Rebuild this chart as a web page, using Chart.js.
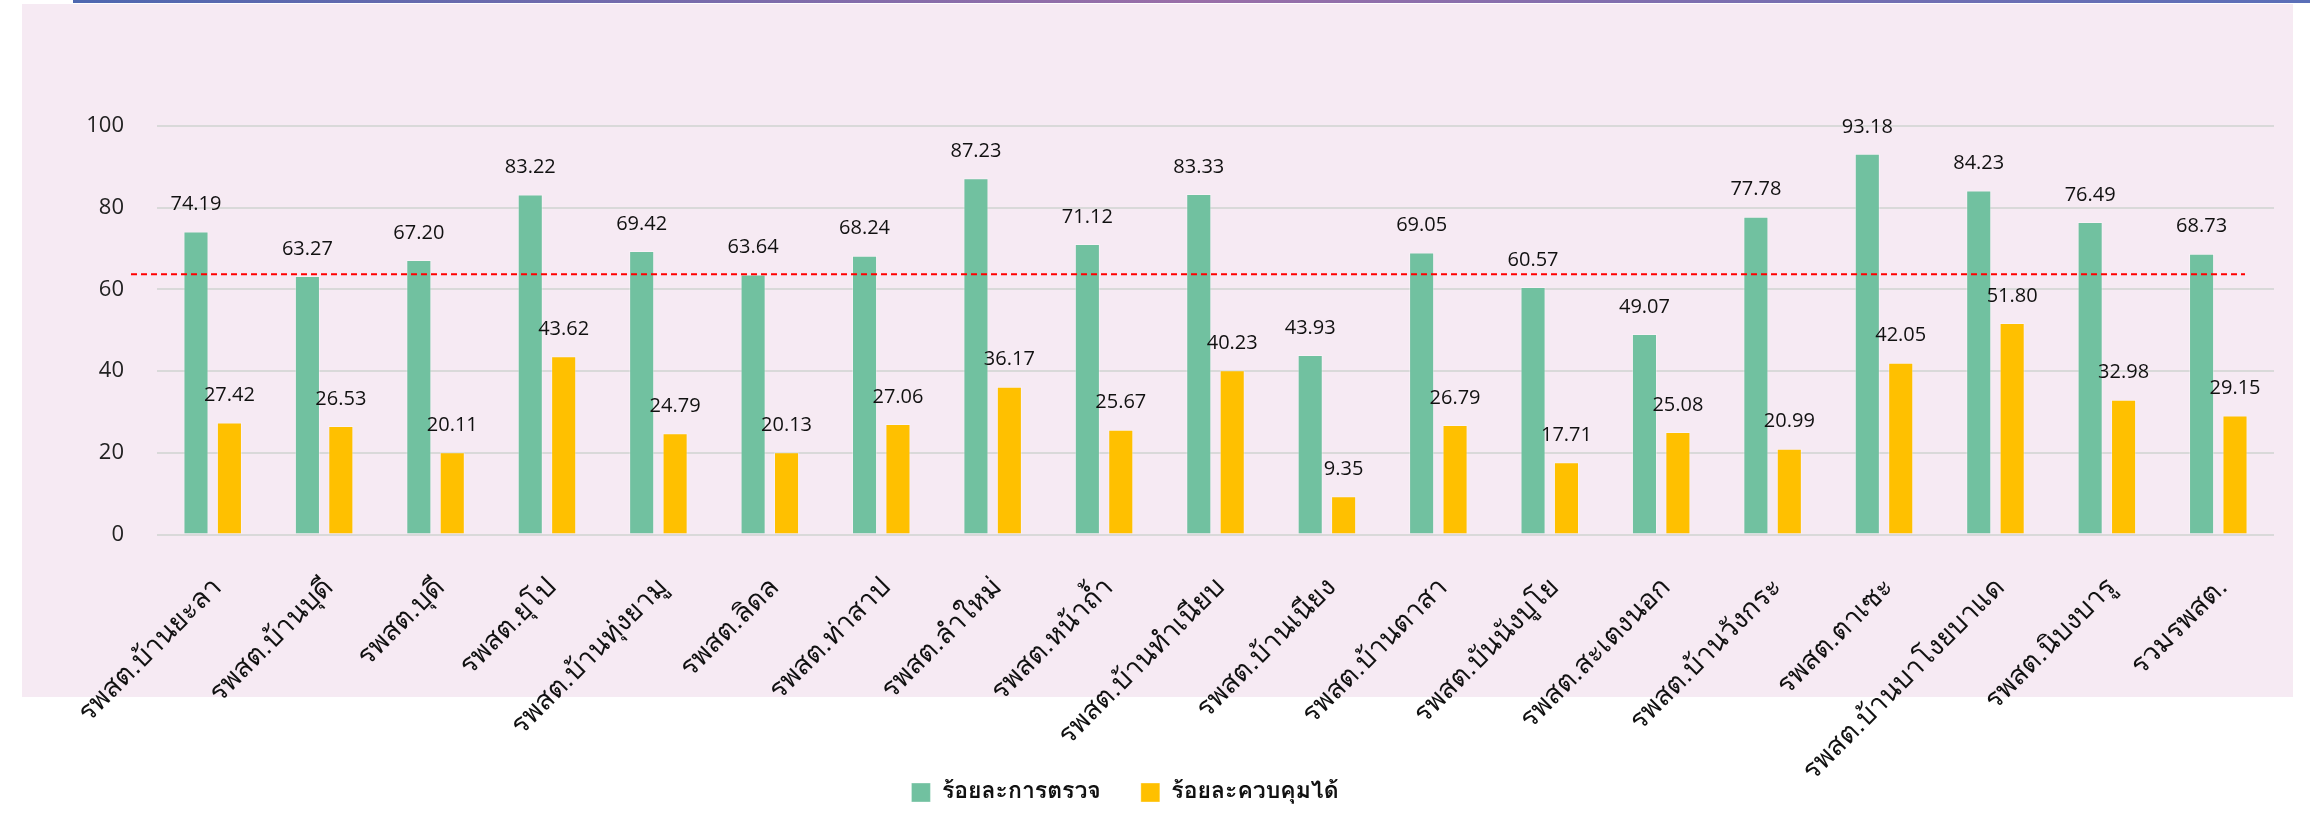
<!DOCTYPE html>
<html>
<head>
<meta charset="utf-8">
<script src="https://cdn.jsdelivr.net/npm/chart.js@4.4.1/dist/chart.umd.min.js"></script>
<style>
  html, body { margin: 0; padding: 0; background: #fff; overflow: hidden; }
  body { width: 2310px; height: 814px; position: relative; }
  #bg { position: absolute; left: 22px; top: 4px; width: 2271px; height: 693px; background: #F6EAF3; }
  #topline { position: absolute; left: 73px; top: 0; width: 2237px; height: 3px;
    background: linear-gradient(to right, #4E68B0, #9A6FA8 50%, #5A6FB8); }
  #wrap { position: absolute; left: -24px; top: 0; width: 2334px; height: 814px; }
</style>
</head>
<body>
<div id="bg"></div>
<div id="topline"></div>
<div id="wrap"><canvas id="chart"></canvas></div>
<script>
// data
const categories = [
  "รพสต.บ้านยะลา", "รพสต.บ้านบุดี", "รพสต.บุดี", "รพสต.ยุโป", "รพสต.บ้านทุ่งยามู",
  "รพสต.ลิดล", "รพสต.ท่าสาป", "รพสต.ลำใหม่", "รพสต.หน้าถ้ำ", "รพสต.บ้านทำเนียบ",
  "รพสต.บ้านเนียง", "รพสต.บ้านตาสา", "รพสต.บันนังบูโย", "รพสต.สะเตงนอก", "รพสต.บ้านวังกระ",
  "รพสต.ตาเซะ", "รพสต.บ้านบาโงยบาแด", "รพสต.นิบงบารู", "รวมรพสต."
]
const examPct = [74.19, 63.27, 67.20, 83.22, 69.42, 63.64, 68.24, 87.23, 71.12, 83.33,
  43.93, 69.05, 60.57, 49.07, 77.78, 93.18, 84.23, 76.49, 68.73]
const controlPct = [27.42, 26.53, 20.11, 43.62, 24.79, 20.13, 27.06, 36.17, 25.67, 40.23,
  9.35, 26.79, 17.71, 25.08, 20.99, 42.05, 51.80, 32.98, 29.15]
const seriesNames = ["ร้อยละการตรวจ", "ร้อยละควบคุมได้"]
const targetLine = 63.7
const yMin = 0
const yMax = 100
const yStep = 20

const thaiFont = "Loma, 'Noto Sans Thai Looped', Tahoma, 'Noto Sans Thai', 'Noto Sans', sans-serif"
const numFont = "'Open Sans', 'Noto Sans', sans-serif"

// value labels above every bar
const valueLabels = {
  id: 'valueLabels',
  afterDatasetsDraw(chart) {
    const ctx = chart.ctx
    ctx.save()
    ctx.font = "20px " + numFont
    ctx.fillStyle = "#111"
    ctx.textAlign = "center"
    ctx.textBaseline = "middle"
    chart.data.datasets.forEach((ds, i) => {
      chart.getDatasetMeta(i).data.forEach((bar, j) => {
        ctx.fillText(ds.data[j].toFixed(2), bar.x, bar.y - 27)
      })
    })
    ctx.restore()
  }
}

// red dashed target line
const targetPlugin = {
  id: 'target',
  afterDatasetsDraw(chart) {
    const ctx = chart.ctx
    const area = chart.chartArea
    const y = chart.scales.y.getPixelForValue(targetLine)
    ctx.save()
    ctx.strokeStyle = "#FF0000"
    ctx.lineWidth = 2
    ctx.setLineDash([6, 4])
    ctx.beginPath()
    ctx.moveTo(area.left - 26, y)
    ctx.lineTo(area.right - 29, y)
    ctx.stroke()
    ctx.restore()
  }
}

// long rotated labels run into the legend band, don't clip them at the scale box
const noClipLabels = {
  id: 'noClipLabels',
  afterLayout(chart) {
    chart.scales.x.bottom = chart.height
  }
}

new Chart(document.getElementById('chart'), {
  type: 'bar',
  data: {
    labels: categories,
    datasets: [
      { label: seriesNames[0], data: examPct, backgroundColor: "#71C1A0",
        borderColor: "rgba(255,255,255,0.35)", borderWidth: 1 },
      { label: seriesNames[1], data: controlPct, backgroundColor: "#FFC000",
        borderColor: "rgba(255,255,255,0.35)", borderWidth: 1 }
    ]
  },
  options: {
    responsive: true,
    maintainAspectRatio: false,
    animation: false,
    layout: { padding: { top: 126, right: 36, left: 0, bottom: 0 } },
    datasets: { bar: { categoryPercentage: 0.6, barPercentage: 0.75 } },
    scales: {
      x: {
        grid: { display: false, drawTicks: false },
        border: { display: false },
        ticks: {
          color: "#111",
          font: { family: thaiFont, size: 27.5 },
          minRotation: 45, maxRotation: 45,
          padding: 38,
          labelOffset: 6,
          autoSkip: false
        },
        afterFit(scale) { scale.height = 206.5 }
      },
      y: {
        min: yMin, max: yMax,
        grid: { color: "#D9D9D9", lineWidth: 2, drawTicks: false },
        border: { display: false },
        ticks: {
          stepSize: yStep,
          color: "#222",
          font: { family: numFont, size: 22 },
          padding: 33
        },
        afterFit(scale) { scale.width = 181 }
      }
    },
    plugins: {
      legend: {
        position: 'bottom',
        labels: {
          boxWidth: 19, boxHeight: 19,
          padding: 40,
          color: "#111",
          font: { family: thaiFont, size: 23, weight: 'bold' }
        }
      },
      tooltip: { enabled: false }
    }
  },
  plugins: [valueLabels, targetPlugin, noClipLabels]
})
</script>
</body>
</html>
